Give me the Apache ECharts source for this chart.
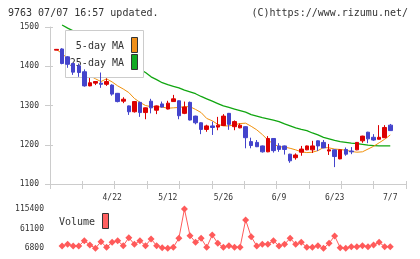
<!DOCTYPE html>
<html><head><meta charset="utf-8">
<script src="https://cdn.jsdelivr.net/npm/echarts@6/dist/echarts.min.js"></script>
<style>html,body{margin:0;padding:0;background:#fff}#c{width:420px;height:259px}</style>
</head><body><div id="c"></div>
<script>
const dates = ['4/8','4/9','4/10','4/11','4/14','4/15','4/16','4/17','4/18','4/21',
  '4/22','4/23','4/24','4/25','4/28','5/1','5/2','5/7','5/8','5/9',
  '5/12','5/13','5/14','5/15','5/16','5/19','5/20','5/21','5/22','5/23',
  '5/26','5/27','5/28','5/29','5/30','6/2','6/3','6/4','6/5','6/6',
  '6/9','6/10','6/11','6/12','6/13','6/16','6/17','6/18','6/19','6/20',
  '6/23','6/24','6/25','6/26','6/27','6/30','7/1','7/2','7/3','7/4','7/7'];
const opens  = [1441,1444,1424,1407,1401,1386,1350,1357,1357,1354,
  1352,1331,1311,1299,1284,1308,1282,1311,1288,1304,
  1291,1310,1312,1280,1308,1273,1256,1239,1248,1245,
  1249,1280,1246,1243,1246,1208,1206,1197,1182,1216,
  1197,1197,1176,1167,1181,1187,1187,1210,1206,1184,
  1187,1164,1188,1184,1187,1210,1232,1219,1214,1218,1250];
const closes = [1443,1407,1405,1385,1384,1350,1358,1361,1354,1361,
  1329,1310,1316,1284,1310,1282,1294,1294,1299,1296,
  1306,1317,1274,1296,1263,1256,1239,1248,1244,1250,
  1273,1252,1259,1250,1218,1198,1195,1182,1216,1185,
  1188,1188,1159,1174,1189,1197,1197,1197,1192,1187,
  1170,1187,1176,1182,1206,1222,1215,1212,1219,1244,1236];
const lows   = [1441,1405,1396,1378,1373,1348,1349,1352,1345,1350,
  1325,1308,1306,1276,1282,1271,1265,1280,1278,1295,
  1290,1309,1265,1278,1262,1252,1227,1233,1225,1237,
  1248,1238,1237,1242,1191,1191,1194,1180,1181,1180,
  1182,1175,1154,1162,1172,1186,1179,1184,1191,1174,
  1143,1163,1172,1176,1186,1205,1204,1210,1213,1217,1235];
const highs  = [1443,1446,1426,1409,1407,1392,1370,1362,1384,1369,
  1354,1332,1321,1300,1311,1310,1295,1317,1300,1310,
  1312,1327,1313,1310,1310,1274,1257,1251,1259,1271,
  1278,1281,1262,1254,1247,1218,1212,1198,1222,1217,
  1204,1198,1177,1178,1197,1198,1210,1211,1212,1202,
  1188,1188,1193,1194,1207,1223,1233,1227,1250,1250,1253];
const ma5  = [1443,1432,1420,1410,1403,1386,1376,1368,1361,1368,
  1360,1350,1342,1333,1318,1308,1300,1297,1297,1296,
  1293,1294,1295,1297,1297,1290,1282,1267,1261,1252,
  1248,1248,1251,1254,1255,1247,1238,1226,1212,1202,
  1195,1194,1191,1187,1182,1180,1181,1185,1193,1192,
  1189,1188,1186,1183,1181,1182,1189,1196,1205,1214,1225];
const ma25 = [null,1505,1497,1490,1482,1474,1466,1458,1450,1442,
  1434,1426,1418,1410,1401,1392,1384,1373,1366,1358,
  1353,1349,1345,1339,1335,1330,1323,1317,1311,1305,
  1299,1295,1291,1287,1283,1277,1273,1269,1266,1263,
  1259,1253,1248,1243,1239,1236,1230,1225,1219,1215,
  1211,1208,1206,1204,1203,1201,1199,1198,1197,1197,1197];
const volume = [null,13100,17900,13100,13100,27800,16000,7000,25100,9600,
  23400,27800,14000,36200,17900,27800,14000,32600,14000,8500,
  6800,9600,34500,115400,41700,23400,34500,9600,43600,20600,
  9600,14000,9600,9600,85200,39000,13100,17900,17900,27800,
  13100,17900,34500,17900,23400,9600,9600,14000,6800,20600,
  40900,8500,6800,11200,11200,14000,11200,16000,23400,11200,11200];
const xLabelIdx = [10,20,30,40,50,60];
const priceMin = 1100, priceMax = 1500, priceStep = 100;
const volTicks = [6800, 61100, 115400];

const FONT = '"DejaVu Sans Mono", "Liberation Mono", monospace';
const chart = echarts.init(document.getElementById('c'), null, {renderer: 'canvas'});
const xMin = -1.17, xMax = 62.83;
const candle = dates.map((d, i) => [i, opens[i], closes[i], lows[i], highs[i]]);
const toXY = arr => arr.map((v, i) => [i, v == null ? '-' : v]);
const tickColor = '#cccccc';
const lbl = {fontFamily: FONT, fontSize: 8, color: '#333'};
const plain = v => String(Math.round(v));

chart.setOption({
  animation: false,
  grid: [
    {left: 50, right: 14, top: 27, height: 157},
    {left: 50, right: 14, top: 209, height: 39.3}
  ],
  xAxis: [
    {type: 'value', gridIndex: 0, position: 'bottom', min: xMin, max: xMax,
      axisLine: {onZero: false, lineStyle: {color: tickColor}}, axisTick: {show: false},
      splitLine: {show: false},
      axisLabel: Object.assign({customValues: xLabelIdx, formatter: v => dates[v], margin: 10}, lbl)},
    {type: 'value', gridIndex: 0, position: 'bottom', min: 0, max: 11, interval: 1,
      axisLine: {show: false, onZero: false}, axisTick: {length: 5, lineStyle: {color: tickColor}},
      axisLabel: {show: false}, splitLine: {show: false}},
    {type: 'value', gridIndex: 0, position: 'bottom', min: 0, max: 11, interval: 1,
      axisLine: {show: false, onZero: false}, axisTick: {inside: true, length: 3, lineStyle: {color: tickColor}},
      axisLabel: {show: false}, splitLine: {show: false}},
    {type: 'value', gridIndex: 1, position: 'bottom', min: xMin, max: xMax, show: false}
  ],
  yAxis: [
    {type: 'value', gridIndex: 0, position: 'left', min: priceMin, max: priceMax, interval: priceStep,
      axisLine: {show: true, onZero: false, lineStyle: {color: tickColor}},
      axisTick: {length: 5, lineStyle: {color: tickColor}}, splitLine: {show: false},
      axisLabel: Object.assign({margin: 11, formatter: plain}, lbl)},
    {type: 'value', gridIndex: 0, position: 'left', min: priceMin, max: priceMax, interval: priceStep,
      axisLine: {show: false, onZero: false},
      axisTick: {inside: true, length: 3, lineStyle: {color: tickColor}}, splitLine: {show: false},
      axisLabel: {show: false}},
    {type: 'value', gridIndex: 1, position: 'left', min: volTicks[0], max: volTicks[2],
      axisLine: {show: false, onZero: false}, axisTick: {show: false}, splitLine: {show: false},
      axisLabel: Object.assign({customValues: volTicks, margin: 6, formatter: plain}, lbl)}
  ],
  series: [
    {type: 'line', xAxisIndex: 0, yAxisIndex: 0, data: toXY(ma25), symbol: 'none', clip: false, z: 2,
      lineStyle: {color: '#11a611', width: 1.3}},
    {type: 'line', xAxisIndex: 0, yAxisIndex: 0, data: toXY(ma5), symbol: 'none', clip: false, z: 2,
      lineStyle: {color: '#f0900a', width: 1}},
    {type: 'candlestick', xAxisIndex: 0, yAxisIndex: 0, data: candle, barWidth: 4, z: 5,
      itemStyle: {color: '#dd0000', color0: '#4444cc', borderColor: '#dd0000', borderColor0: '#4444cc', borderWidth: 1}},
    {type: 'line', xAxisIndex: 3, yAxisIndex: 2, data: toXY(volume), symbol: 'diamond', symbolSize: 7,
      showAllSymbol: true, clip: false,
      lineStyle: {color: '#ff5a5a', width: 1}, itemStyle: {color: '#ff5a5a'}}
  ],
  graphic: {elements: [
    {type: 'text', x: 8, y: 13, z: 10, style: {text: '9763 07/07 16:57 updated.', font: '10px ' + FONT, fill: '#333', verticalAlign: 'middle'}},
    {type: 'text', x: 408, y: 13, z: 10, style: {text: '(C)https://www.rizumu.net/', font: '10px ' + FONT, fill: '#333', align: 'right', verticalAlign: 'middle'}},
    {type: 'rect', z: 3, shape: {x: 65.5, y: 30.5, width: 78, height: 47}, style: {fill: '#fff', stroke: '#cccccc', lineWidth: 1}},
    {type: 'text', x: 124, y: 46, z: 4, style: {text: '5-day MA', font: '10px ' + FONT, fill: '#333', align: 'right', verticalAlign: 'middle'}},
    {type: 'text', x: 124, y: 63, z: 4, style: {text: '25-day MA', font: '10px ' + FONT, fill: '#333', align: 'right', verticalAlign: 'middle'}},
    {type: 'rect', z: 4, shape: {x: 131.5, y: 37.5, width: 6, height: 15}, style: {fill: '#f0901a', stroke: '#333', lineWidth: 1}},
    {type: 'rect', z: 4, shape: {x: 131.5, y: 54.5, width: 6, height: 15}, style: {fill: '#11aa22', stroke: '#333', lineWidth: 1}},
    {type: 'text', x: 59, y: 222, z: 4, style: {text: 'Volume', font: '10px ' + FONT, fill: '#333', verticalAlign: 'middle'}},
    {type: 'rect', z: 4, shape: {x: 102.5, y: 213.5, width: 6, height: 15}, style: {fill: '#ff6060', stroke: '#333', lineWidth: 1}}
  ]}
});
</script>
</body></html>
